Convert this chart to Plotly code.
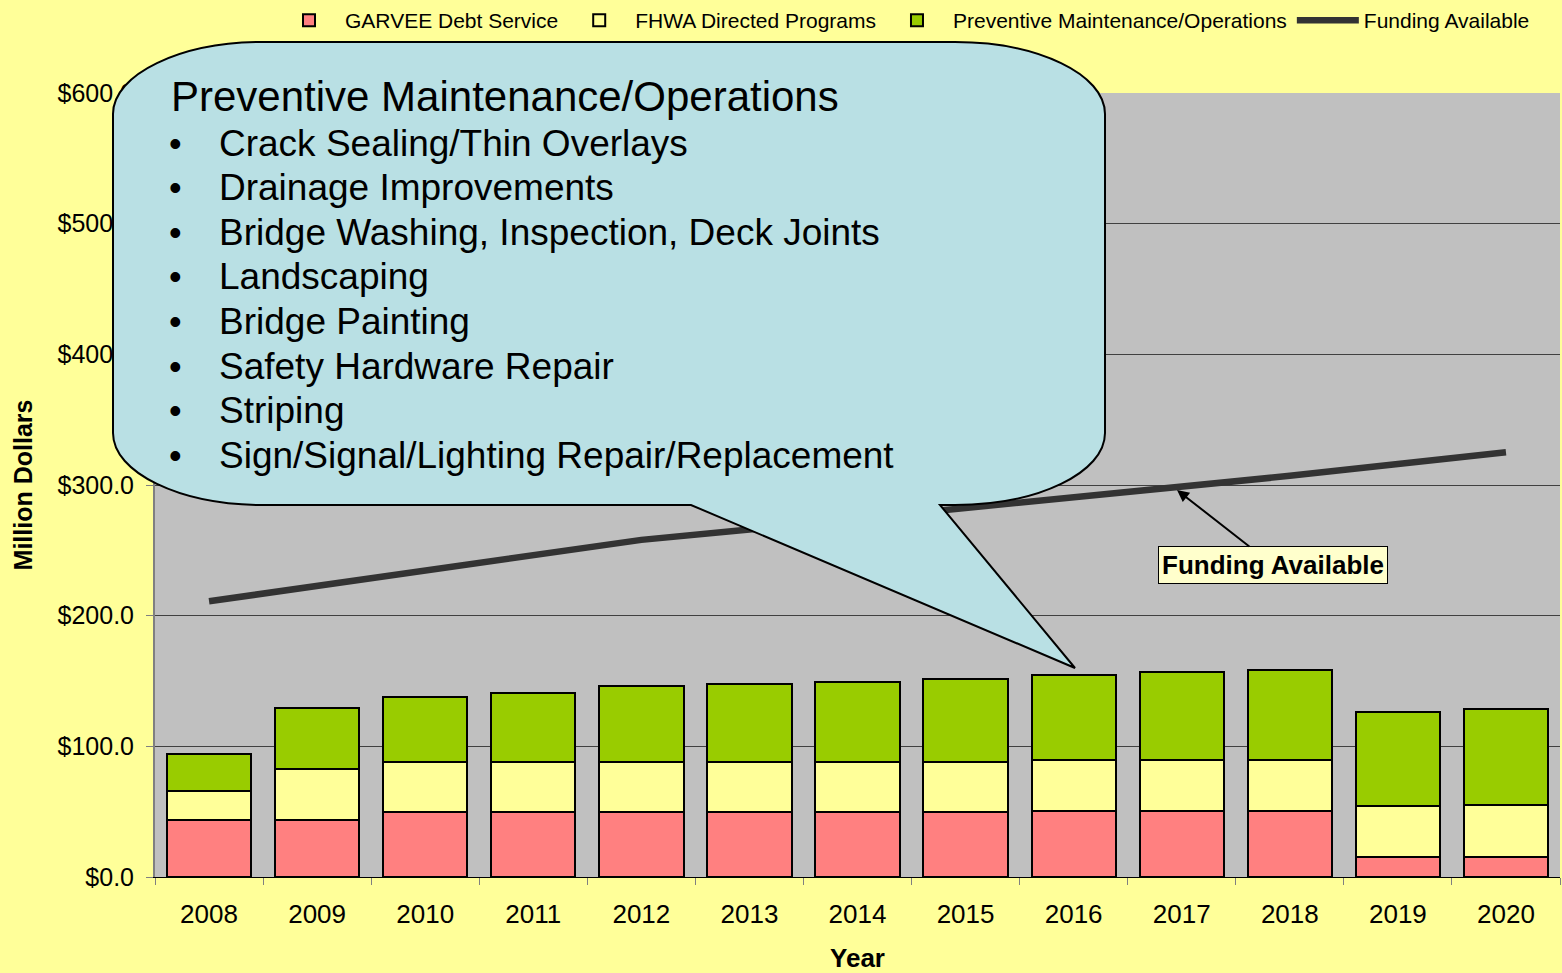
import plotly.graph_objects as go

years = ["2008", "2009", "2010", "2011", "2012", "2013", "2014", "2015", "2016", "2017", "2018", "2019", "2020"]
garvee = [43.6, 43.4, 49.6, 49.6, 49.4, 49.4, 49.4, 49.4, 50.7, 50.7, 50.7, 15.5, 15.5]
fhwa = [22.2, 39.2, 38.4, 38.4, 38.4, 38.4, 38.6, 38.6, 38.8, 38.8, 38.8, 39.0, 39.6]
pmo = [28.3, 46.7, 49.7, 52.8, 58.0, 59.9, 61.4, 63.2, 65.3, 67.3, 69.3, 71.7, 73.6]
funding = [211, 223, 234, 246, 258, 266, 274, 282, 290, 298, 307, 316, 325]

callout_title = "Preventive Maintenance/Operations"
callout_items = [
    "Crack Sealing/Thin Overlays",
    "Drainage Improvements",
    "Bridge Washing, Inspection, Deck Joints",
    "Landscaping",
    "Bridge Painting",
    "Safety Hardware Repair",
    "Striping",
    "Sign/Signal/Lighting Repair/Replacement",
]

FONT = "Arial, Liberation Sans, sans-serif"
W, H = 1562, 973
ML, MR, MT, MB = 155, 2, 93, 96
PW, PH = W - ML - MR, H - MT - MB


def px(x):
    return (x - ML) / PW


def py(y):
    return (H - MB - y) / PH


fig = go.Figure()
fig.add_trace(go.Bar(x=years, y=garvee, name="GARVEE Debt Service",
                     marker=dict(color="#FF8080", line=dict(color="black", width=2))))
fig.add_trace(go.Bar(x=years, y=fhwa, name="FHWA Directed Programs",
                     marker=dict(color="#FFFF99", line=dict(color="black", width=2))))
fig.add_trace(go.Bar(x=years, y=pmo, name="Preventive Maintenance/Operations",
                     marker=dict(color="#99CC00", line=dict(color="black", width=2))))
fig.add_trace(go.Scatter(x=years, y=funding, name="Funding Available", mode="lines",
                         line=dict(color="#333333", width=6.5)))

# callout bubble path (pixel geometry converted to paper coords)
L, R, T, B = 113, 1105, 42, 505
rx, ry = 150, 72
k = 0.5523
tb1, tb2, tip = 691, 940, (1075, 668)


def P(x, y):
    return f"{px(x):.5f},{py(y):.5f}"


path = (
    f"M {P(L + rx, T)} L {P(R - rx, T)} "
    f"C {P(R - rx + k * rx, T)} {P(R, T + ry - k * ry)} {P(R, T + ry)} "
    f"L {P(R, B - ry)} "
    f"C {P(R, B - ry + k * ry)} {P(R - rx + k * rx, B)} {P(R - rx, B)} "
    f"L {P(tb2, B)} L {P(*tip)} L {P(tb1, B)} L {P(L + rx, B)} "
    f"C {P(L + rx - k * rx, B)} {P(L, B - ry + k * ry)} {P(L, B - ry)} "
    f"L {P(L, T + ry)} "
    f"C {P(L, T + ry - k * ry)} {P(L + rx - k * rx, T)} {P(L + rx, T)} Z"
)
shapes = [dict(type="path", xref="paper", yref="paper", path=path,
               fillcolor="#B9E0E4", line=dict(color="black", width=2), layer="above")]

annotations = [dict(xref="paper", yref="paper", x=px(169), y=py(96), xanchor="left", yanchor="middle",
                    text=callout_title, showarrow=False, font=dict(family=FONT, size=42, color="black"))]
for i, item in enumerate(callout_items):
    yy = 143 + i * 44.6
    annotations.append(dict(xref="paper", yref="paper", x=px(175), y=py(yy), xanchor="center", yanchor="middle",
                            text="•", showarrow=False, font=dict(family=FONT, size=36, color="black")))
    annotations.append(dict(xref="paper", yref="paper", x=px(217), y=py(yy), xanchor="left", yanchor="middle",
                            text=item, showarrow=False, font=dict(family=FONT, size=37, color="black")))

annotations.append(dict(xref="paper", yref="paper", x=px(1177), y=py(490), ax=96, ay=75,
                        text="<b>Funding Available</b>", showarrow=True, arrowhead=2, arrowsize=1.2,
                        arrowwidth=2, arrowcolor="black", bgcolor="#FFFFCC", bordercolor="black",
                        borderwidth=1, borderpad=3, font=dict(family=FONT, size=26, color="black")))

fig.update_layout(
    width=W, height=H,
    margin=dict(l=ML, r=MR, t=MT, b=MB),
    paper_bgcolor="#FFFF99", plot_bgcolor="#C0C0C0",
    barmode="stack", bargap=0.22,
    font=dict(family=FONT, size=19, color="black"),
    legend=dict(orientation="h", xref="container", x=1535 / W, xanchor="right",
                yref="container", y=1, yanchor="top",
                font=dict(size=21), bgcolor="rgba(0,0,0,0)", traceorder="normal", itemwidth=62),
    shapes=shapes, annotations=annotations,
    showlegend=True,
)
fig.update_xaxes(type="category", tickson="boundaries", ticks="outside", ticklen=7, tickcolor="#808080",
                 showline=True, linecolor="black", linewidth=1, showgrid=False, ticklabelstandoff=14,
                 tickfont=dict(size=26), title=dict(text="<b>Year</b>", font=dict(size=26), standoff=20))
fig.update_yaxes(range=[0, 600], dtick=100, tickprefix="$", tickformat=".1f", ticks="outside", ticklen=7,
                 tickcolor="#808080", showline=True, linecolor="#808080", linewidth=2, ticklabelstandoff=7,
                 showgrid=True, gridcolor="#404040", gridwidth=1, zeroline=False,
                 tickfont=dict(size=25), title=dict(text="<b>Million Dollars</b>", font=dict(size=25), standoff=18))

fig.write_html("out.html", config={"displayModeBar": False},
               post_script="document.body.style.margin='0';")
